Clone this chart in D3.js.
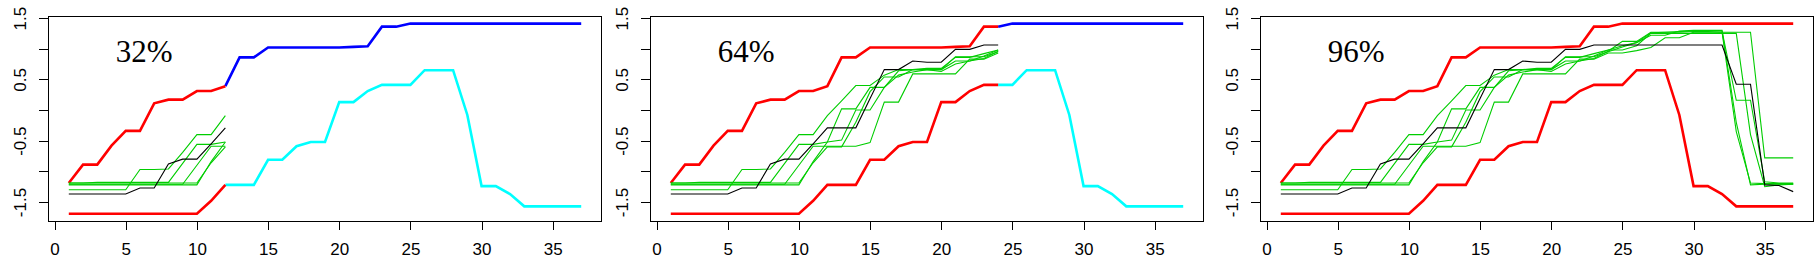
<!DOCTYPE html>
<html>
<head>
<meta charset="utf-8">
<script src="https://cdn.jsdelivr.net/npm/d3@7"></script>
<style>
  body { margin: 0; background: #fff; }
  svg { display: block; }
  .axis text { font-family: "Liberation Sans", Arial, sans-serif; font-size: 17px; fill: #000; }
  .pct { font-family: "Liberation Serif", "Times New Roman", serif; font-size: 31px; fill: #000; }
</style>
</head>
<body>
<svg id="chart" width="1820" height="266"></svg>
<script>
// time steps 1..37
const steps = d3.range(1, 38);

// envelope (upper / lower bound)
const upper = [-1.19, -0.89, -0.89, -0.58, -0.34, -0.34, 0.11, 0.17, 0.17, 0.31, 0.31, 0.39,
  0.86, 0.86, 1.02, 1.02, 1.02, 1.02, 1.02, 1.02, 1.03, 1.04, 1.36, 1.36,
  1.41, 1.41, 1.41, 1.41, 1.41, 1.41, 1.41, 1.41, 1.41, 1.41, 1.41, 1.41, 1.41];
const lower = [-1.69, -1.69, -1.69, -1.69, -1.69, -1.69, -1.69, -1.69, -1.69, -1.69, -1.48, -1.22,
  -1.22, -1.22, -0.81, -0.81, -0.59, -0.52, -0.52, 0.13, 0.13, 0.31, 0.41, 0.41,
  0.41, 0.65, 0.65, 0.65, -0.08, -1.24, -1.24, -1.37, -1.57, -1.57, -1.57, -1.57, -1.57];

// observed path (black)
const observed = [-1.37, -1.37, -1.37, -1.37, -1.37, -1.27, -1.27, -0.88, -0.80, -0.80, -0.55, -0.29,
  -0.29, -0.29, 0.19, 0.66, 0.66, 0.80, 0.78, 0.78, 0.99, 0.99, 1.06, 1.06,
  1.06, 1.06, 1.06, 1.06, 1.06, 1.06, 1.06, 1.06, 0.42, 0.42, -1.22, -1.23, -1.33];

// simulated paths (green)
const sim1 = [-1.30, -1.30, -1.30, -1.30, -1.30, -0.97, -0.97, -0.96, -0.69, -0.40, -0.40, -0.09,
  0.15, 0.40, 0.40, 0.57, 0.66, 0.66, 0.66, 0.66, 0.87, 0.87, 0.87, 0.95,
  1.03, 1.10, 1.26, 1.27, 1.28, 1.29, 1.29, 1.29, 0.16, 0.16, -1.17, -1.19, -1.19];
const sim2 = [-1.19, -1.19, -1.18, -1.18, -1.18, -1.18, -1.18, -1.18, -0.87, -0.56, -0.56, -0.52,
  -0.49, 0.00, 0.00, 0.37, 0.57, 0.62, 0.66, 0.66, 0.80, 0.80, 0.84, 0.96,
  1.12, 1.12, 1.27, 1.27, 1.27, 1.28, 1.28, 1.27, -0.35, -1.19, -1.20, -1.20, -1.20];
const sim3 = [-1.21, -1.21, -1.21, -1.21, -1.21, -1.21, -1.21, -1.21, -1.21, -0.90, -0.59, -0.59,
  -0.59, -0.59, -0.53, 0.13, 0.13, 0.59, 0.59, 0.59, 0.59, 0.83, 0.83, 0.93,
  0.93, 0.97, 1.02, 1.18, 1.18, 1.27, 1.27, 1.27, 1.27, 1.27, -0.78, -0.78, -0.78];
const sim4 = [-1.22, -1.22, -1.22, -1.22, -1.22, -1.22, -1.22, -1.22, -1.22, -1.22, -0.84, -0.52,
  0.02, 0.02, 0.37, 0.37, 0.64, 0.66, 0.66, 0.63, 0.75, 0.80, 0.88, 0.98,
  0.98, 1.05, 1.25, 1.25, 1.25, 1.25, 1.25, 1.25, 1.25, -0.40, -1.25, -1.22, -1.21];
const sim5 = [-1.19, -1.19, -1.19, -1.19, -1.19, -1.19, -1.19, -1.19, -1.19, -1.19, -0.86, -0.60,
  -0.60, -0.20, 0.30, 0.54, 0.54, 0.66, 0.68, 0.68, 0.86, 0.86, 0.92, 0.98,
  1.05, 1.10, 1.22, 1.22, 1.29, 1.30, 1.30, 1.30, -0.20, -1.22, -1.21, -1.21, -1.21];
const simulations = [sim1, sim2, sim3, sim4, sim5];

// panels: share of steps observed
const panelLabels = ['32%', '64%', '96%'];
const panelCuts = [12, 24, 37];

const xTicks = [0, 5, 10, 15, 20, 25, 30, 35];
const yTicks = [-1.5, -1, -0.5, 0, 0.5, 1, 1.5];
const yTickLabels = ['-1.5', '', '-0.5', '', '0.5', '', '1.5'];

const svg = d3.select('#chart');
const panelLeft = [48.3, 650.3, 1260.3];
const plotW = 553.4;
const plotTop = 16;
const plotH = 205.3;

// R-style 4% padding
const pad = (lo, hi) => [lo - (hi - lo) * 0.04, hi + (hi - lo) * 0.04];
const yExtent = d3.extent([...upper, ...lower]);

const x = d3.scaleLinear().domain(pad(1, 37)).range([0, plotW]);
const y = d3.scaleLinear().domain(pad(yExtent[0], yExtent[1])).range([plotH, 0]);

const line = d3.line().x((d) => x(d.t)).y((d) => y(d.v));
const toPts = (arr, from, to) =>
  steps.map((t, i) => ({ t, v: arr[i] })).filter((d) => d.t >= from && d.t <= to);

panelLabels.forEach((label, p) => {
  const cut = panelCuts[p];
  const g = svg.append('g').attr('transform', `translate(${panelLeft[p]},${plotTop})`);

  const clipId = `clip${p}`;
  g.append('clipPath').attr('id', clipId)
    .append('rect').attr('width', plotW).attr('height', plotH);
  const plot = g.append('g').attr('clip-path', `url(#${clipId})`);

  // envelope: red on observed part, blue / cyan beyond
  plot.append('path').datum(toPts(upper, cut, 37)).attr('d', line)
    .attr('fill', 'none').attr('stroke', '#0000ff').attr('stroke-width', 2.6);
  plot.append('path').datum(toPts(lower, cut, 37)).attr('d', line)
    .attr('fill', 'none').attr('stroke', '#00ffff').attr('stroke-width', 2.6);
  [upper, lower].forEach((arr) => {
    plot.append('path').datum(toPts(arr, 1, cut)).attr('d', line)
      .attr('fill', 'none').attr('stroke', '#ff0000').attr('stroke-width', 2.6);
  });

  simulations.forEach((arr) => {
    plot.append('path').datum(toPts(arr, 1, cut)).attr('d', line)
      .attr('fill', 'none').attr('stroke', '#00cd00').attr('stroke-width', 1.1);
  });
  plot.append('path').datum(toPts(observed, 1, cut)).attr('d', line)
    .attr('fill', 'none').attr('stroke', '#000').attr('stroke-width', 1.1);

  g.append('text').attr('class', 'pct')
    .attr('x', x(6.3)).attr('y', y(0.95))
    .attr('text-anchor', 'middle').attr('dominant-baseline', 'central')
    .text(label);

  // frame
  g.append('rect').attr('width', plotW).attr('height', plotH)
    .attr('fill', 'none').attr('stroke', '#000').attr('stroke-width', 1)
    .attr('shape-rendering', 'crispEdges');

  // x axis, detached like R
  const xAxis = g.append('g').attr('class', 'axis')
    .attr('transform', `translate(0,${plotH})`)
    .call(d3.axisBottom(x).tickValues(xTicks).tickSize(9).tickPadding(13).tickFormat(d3.format('d')));
  xAxis.select('.domain').remove();
  xAxis.selectAll('line').attr('shape-rendering', 'crispEdges');

  const yAxis = g.append('g').attr('class', 'axis')
    .call(d3.axisLeft(y).tickValues(yTicks).tickSize(9).tickFormat((d, i) => yTickLabels[i]));
  yAxis.select('.domain').remove();
  yAxis.selectAll('line').attr('shape-rendering', 'crispEdges');
  yAxis.selectAll('text')
    .attr('x', null).attr('dy', null)
    .attr('text-anchor', 'middle')
    .attr('transform', 'translate(-22,0) rotate(-90)');
});
</script>
</body>
</html>
